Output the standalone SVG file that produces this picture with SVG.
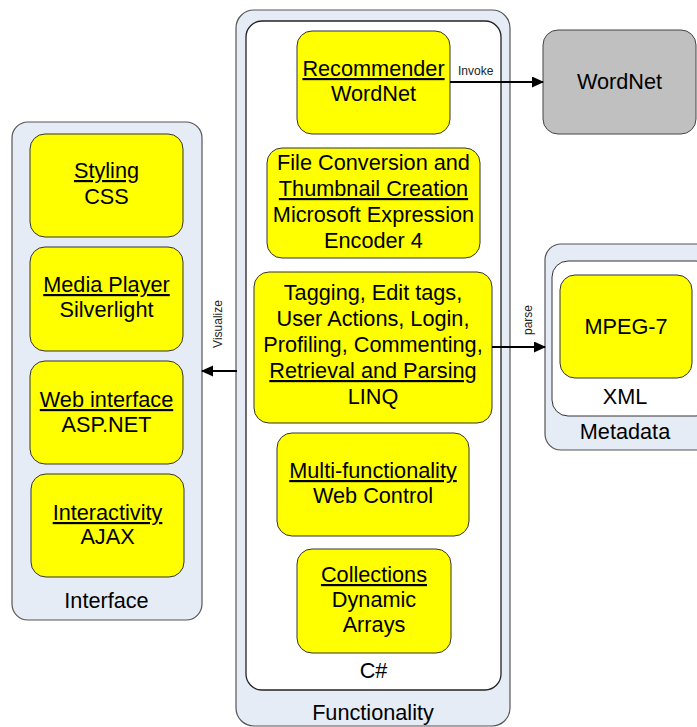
<svg xmlns="http://www.w3.org/2000/svg" width="697" height="727" viewBox="0 0 697 727">
<defs>
<marker id="arr" markerWidth="12" markerHeight="12" refX="11" refY="5.5" orient="auto" markerUnits="userSpaceOnUse">
<path d="M0,0 L12,5.5 L0,11 z" fill="#000"/>
</marker>
<style>
.grp{fill:#e6ecf6;stroke:#555;stroke-width:1.2}
.inner{fill:#fff;stroke:#222;stroke-width:1.3}
.box{fill:#ffff00;stroke:#333;stroke-width:1}
.grey{fill:#c0c0c0;stroke:#444;stroke-width:1}
text{font-family:"Liberation Sans",Arial,sans-serif;fill:#000}
.t{font-size:21.7px;text-anchor:middle}
.u{text-decoration:underline}
.s{font-size:12px;fill:#222}
.c{stroke:#000;stroke-width:2;fill:none}
</style>
</defs>
<rect width="697" height="727" fill="#fff"/>

<g id="interface">
<rect class="grp" x="12" y="122" width="190" height="498" rx="16"/>
<text class="t" x="106.5" y="608">Interface</text>
</g>
<g id="styling">
<rect class="box" x="30" y="134" width="153" height="103" rx="15"/>
<text class="t" x="106.5" y="178"><tspan class="u">Styling</tspan><tspan x="106.5" dy="26">CSS</tspan></text>
</g>
<g id="media-player">
<rect class="box" x="30" y="247" width="153" height="104" rx="15"/>
<text class="t" x="106.5" y="292"><tspan class="u">Media Player</tspan><tspan x="106.5" dy="25">Silverlight</tspan></text>
</g>
<g id="web-interface">
<rect class="box" x="30" y="361" width="153" height="103" rx="15"/>
<text class="t" x="106.5" y="407"><tspan class="u">Web interface</tspan><tspan x="106.5" dy="25">ASP.NET</tspan></text>
</g>
<g id="interactivity">
<rect class="box" x="31" y="474" width="153" height="103" rx="15"/>
<text class="t" x="107.5" y="520"><tspan class="u">Interactivity</tspan><tspan x="107.5" dy="24">AJAX</tspan></text>
</g>

<g id="functionality">
<rect class="grp" x="236" y="10" width="274" height="716" rx="18"/>
<text class="t" x="373" y="720">Functionality</text>
</g>
<g id="csharp">
<rect class="inner" x="246" y="21" width="255" height="669" rx="16"/>
<text class="t" x="373.5" y="678">C#</text>
</g>
<g id="recommender">
<rect class="box" x="297" y="31" width="153" height="103" rx="15"/>
<text class="t" x="373.5" y="76"><tspan class="u">Recommender</tspan><tspan x="373.5" dy="25">WordNet</tspan></text>
</g>
<g id="file-conversion">
<rect class="box" x="267" y="148" width="213" height="110" rx="15"/>
<text class="t" x="373.5" y="170">File Conversion and<tspan class="u" x="373.5" dy="26">Thumbnail Creation</tspan><tspan x="373.5" dy="26">Microsoft Expression</tspan><tspan x="373.5" dy="26">Encoder 4</tspan></text>
</g>
<g id="tagging">
<rect class="box" x="254" y="272" width="238" height="151" rx="15"/>
<text class="t" x="373" y="300">Tagging, Edit tags,<tspan x="373" dy="26">User Actions, Login,</tspan><tspan x="373" dy="26">Profiling, Commenting,</tspan><tspan class="u" x="373" dy="26">Retrieval and Parsing</tspan><tspan x="373" dy="26">LINQ</tspan></text>
</g>
<g id="multi-functionality">
<rect class="box" x="277" y="433" width="192" height="103" rx="15"/>
<text class="t" x="373" y="478"><tspan class="u">Multi-functionality</tspan><tspan x="373" dy="25">Web Control</tspan></text>
</g>
<g id="collections">
<rect class="box" x="297" y="549" width="154" height="104" rx="15"/>
<text class="t" x="374" y="582"><tspan class="u">Collections</tspan><tspan x="374" dy="25">Dynamic</tspan><tspan x="374" dy="25">Arrays</tspan></text>
</g>

<g id="wordnet">
<rect class="grey" x="543" y="30" width="153" height="104" rx="15"/>
<text class="t" x="619.5" y="89">WordNet</text>
</g>

<g id="metadata">
<rect class="grp" x="545" y="244" width="170" height="206" rx="16"/>
<text class="t" x="625" y="439">Metadata</text>
</g>
<g id="xml">
<rect class="inner" x="552" y="261" width="160" height="155" rx="16" style="stroke:#333;stroke-width:1"/>
<text class="t" x="625" y="404">XML</text>
</g>
<g id="mpeg7">
<rect class="box" x="560" y="275" width="132" height="103" rx="15"/>
<text class="t" x="626" y="334">MPEG-7</text>
</g>

<g id="connectors">
<line class="c" x1="450" y1="82" x2="543" y2="82" marker-end="url(#arr)"/>
<text class="s" x="458" y="75">Invoke</text>
<line class="c" x1="492" y1="347" x2="545" y2="347" marker-end="url(#arr)"/>
<text class="s" transform="translate(532,320) rotate(-90)" text-anchor="middle">parse</text>
<line class="c" x1="237" y1="371" x2="202" y2="371" marker-end="url(#arr)"/>
<text class="s" transform="translate(222,324) rotate(-90)" text-anchor="middle">Visualize</text>
</g>
</svg>
